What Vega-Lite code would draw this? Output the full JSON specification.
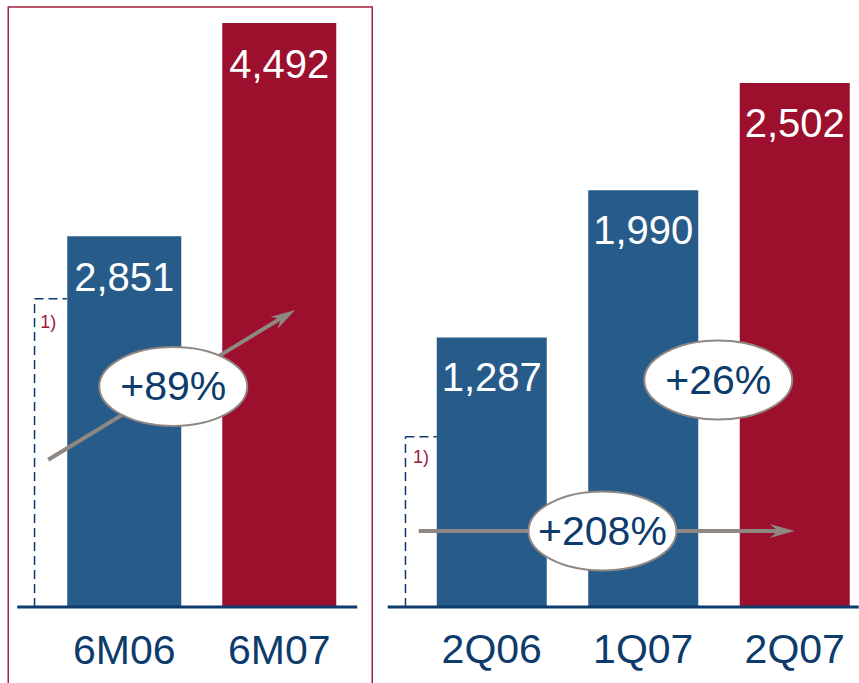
{
  "$schema": "https://vega.github.io/schema/vega-lite/v6.json",
  "padding": {"left": 7.25, "top": 6, "right": 0, "bottom": 0},
  "spacing": 6.5,
  "background": "white",
  "config": {"view": {"stroke": null}, "font": "Liberation Sans"},
  "datasets": {
    "half": [
      {"period": "6M06", "value": 2851, "series": "prior"},
      {"period": "6M07", "value": 4492, "series": "current"}
    ],
    "quarter": [
      {"period": "2Q06", "value": 1287, "series": "prior"},
      {"period": "1Q07", "value": 1990, "series": "prior"},
      {"period": "2Q07", "value": 2502, "series": "current"}
    ],
    "half_axis": [{"u": 0.3097, "u2": 2.5032, "v": 0}],
    "half_dash": [
      {"u": 0.4213, "u2": 0.4213, "v": 0, "v2": 2370},
      {"u": 0.4213, "u2": 0.63, "v": 2370, "v2": 2370}
    ],
    "half_arrow": [{"u": 0.5097, "v": 1133, "u2": 2.0368, "v2": 2239, "tipU": 2.1032, "tipV": 2284}],
    "half_change": [{"u": 1.3161, "v": 1696, "label": "+89%"}],
    "half_note": [{"u": 0.458, "v": 2146, "label": "1)"}],
    "q_axis": [{"u": 0.3135, "u2": 3.4224, "v": 0}],
    "q_dash": [
      {"u": 0.4304, "u2": 0.4304, "v": 0, "v2": 813},
      {"u": 0.4304, "u2": 0.637, "v": 813, "v2": 813}
    ],
    "q_arrow": [{"u": 0.5182, "v": 362.9, "u2": 2.9208, "v2": 362.9, "tipU": 3.0, "tipV": 362.9}],
    "q_change": [
      {"u": 1.7307, "v": 362.9, "label": "+208%"},
      {"u": 2.495, "v": 1083.9, "label": "+26%"}
    ],
    "q_note": [{"u": 0.4805, "v": 689, "label": "1)"}]
  },
  "hconcat": [
    {
      "width": 364,
      "height": 678,
      "view": {"stroke": "#A82040", "strokeWidth": 1.5},
      "resolve": {"scale": {"x": "independent"}},
      "layer": [
        {
          "data": {"name": "half"},
          "layer": [
            {
              "mark": {"type": "bar"},
              "encoding": {
                "x": {"field": "period", "type": "nominal", "sort": null, "axis": null,
                      "scale": {"type": "band", "paddingInner": 0.2645, "paddingOuter": 0.3065, "align": 0.6211}},
                "y": {"field": "value", "type": "quantitative", "axis": null,
                      "scale": {"domain": [-600, 4615], "nice": false, "zero": false}},
                "y2": {"datum": 0},
                "color": {"field": "series", "type": "nominal", "legend": null,
                          "scale": {"domain": ["prior", "current"], "range": ["#275B8A", "#9C0F2D"]}}
              }
            },
            {
              "mark": {"type": "text", "fill": "white", "fontSize": 40, "baseline": "alphabetic", "align": "center", "dy": 55},
              "encoding": {
                "x": {"field": "period", "type": "nominal", "sort": null, "axis": null},
                "y": {"field": "value", "type": "quantitative", "axis": null},
                "text": {"field": "value", "type": "quantitative", "format": ","}
              }
            },
            {
              "mark": {"type": "text", "fill": "#0C3B6C", "fontSize": 41, "baseline": "alphabetic", "align": "center", "dy": 57},
              "encoding": {
                "x": {"field": "period", "type": "nominal", "sort": null, "axis": null},
                "y": {"datum": 0, "type": "quantitative", "axis": null},
                "text": {"field": "period", "type": "nominal"}
              }
            }
          ]
        },
        {
          "layer": [
            {
              "data": {"name": "half_dash"},
              "mark": {"type": "rule", "stroke": "#0C3B6C", "strokeWidth": 1.5, "strokeDash": [9, 5]},
              "encoding": {
                "x": {"field": "u", "type": "quantitative", "axis": null, "scale": {"domain": [0.2516, 2.6], "nice": false, "zero": false}},
                "x2": {"field": "u2"},
                "y": {"field": "v", "type": "quantitative", "axis": null},
                "y2": {"field": "v2"}
              }
            },
            {
              "data": {"name": "half_arrow"},
              "mark": {"type": "rule", "stroke": "#8E8782", "strokeWidth": 4},
              "encoding": {
                "x": {"field": "u", "type": "quantitative", "axis": null},
                "x2": {"field": "u2"},
                "y": {"field": "v", "type": "quantitative", "axis": null},
                "y2": {"field": "v2"}
              }
            },
            {
              "data": {"name": "half_arrow"},
              "mark": {"type": "point", "filled": true, "fill": "#8E8782", "opacity": 1, "size": 625, "angle": 328.76,
                       "shape": "M0,0L-2,-0.56L-1.34,0L-2,0.56Z"},
              "encoding": {
                "x": {"field": "tipU", "type": "quantitative", "axis": null},
                "y": {"field": "tipV", "type": "quantitative", "axis": null}
              }
            },
            {
              "data": {"name": "half_change"},
              "mark": {"type": "point", "filled": true, "fill": "white", "stroke": "#8E8782", "strokeWidth": 2, "opacity": 1, "size": 21904,
                       "shape": "M-1,0C-1,-0.295,-0.552,-0.534,0,-0.534C0.552,-0.534,1,-0.295,1,0C1,0.295,0.552,0.534,0,0.534C-0.552,0.534,-1,0.295,-1,0Z"},
              "encoding": {
                "x": {"field": "u", "type": "quantitative", "axis": null},
                "y": {"field": "v", "type": "quantitative", "axis": null}
              }
            },
            {
              "data": {"name": "half_change"},
              "mark": {"type": "text", "fill": "#0C3B6C", "fontSize": 41, "baseline": "alphabetic", "align": "center", "dy": 14},
              "encoding": {
                "x": {"field": "u", "type": "quantitative", "axis": null},
                "y": {"field": "v", "type": "quantitative", "axis": null},
                "text": {"field": "label", "type": "nominal"}
              }
            },
            {
              "data": {"name": "half_note"},
              "mark": {"type": "text", "fill": "#A3153A", "fontSize": 18, "baseline": "alphabetic", "align": "left"},
              "encoding": {
                "x": {"field": "u", "type": "quantitative", "axis": null},
                "y": {"field": "v", "type": "quantitative", "axis": null},
                "text": {"field": "label", "type": "nominal"}
              }
            },
            {
              "data": {"name": "half_axis"},
              "mark": {"type": "rule", "stroke": "#0C3B6C", "strokeWidth": 3},
              "encoding": {
                "x": {"field": "u", "type": "quantitative", "axis": null},
                "x2": {"field": "u2"},
                "y": {"field": "v", "type": "quantitative", "axis": null}
              }
            }
          ]
        }
      ]
    },
    {
      "width": 479,
      "height": 678,
      "resolve": {"scale": {"x": "independent"}},
      "layer": [
        {
          "data": {"name": "quarter"},
          "layer": [
            {
              "mark": {"type": "bar"},
              "encoding": {
                "x": {"field": "period", "type": "nominal", "sort": null, "axis": null,
                      "scale": {"type": "band", "paddingInner": 0.2739, "paddingOuter": 0.2178, "align": 0.8636}},
                "y": {"field": "value", "type": "quantitative", "axis": null,
                      "scale": {"domain": [-372.4, 2864.9], "nice": false, "zero": false}},
                "y2": {"datum": 0},
                "color": {"field": "series", "type": "nominal", "legend": null,
                          "scale": {"domain": ["prior", "current"], "range": ["#275B8A", "#9C0F2D"]}}
              }
            },
            {
              "mark": {"type": "text", "fill": "white", "fontSize": 40, "baseline": "alphabetic", "align": "center", "dy": 54},
              "encoding": {
                "x": {"field": "period", "type": "nominal", "sort": null, "axis": null},
                "y": {"field": "value", "type": "quantitative", "axis": null},
                "text": {"field": "value", "type": "quantitative", "format": ","}
              }
            },
            {
              "mark": {"type": "text", "fill": "#0C3B6C", "fontSize": 41, "baseline": "alphabetic", "align": "center", "dy": 56},
              "encoding": {
                "x": {"field": "period", "type": "nominal", "sort": null, "axis": null},
                "y": {"datum": 0, "type": "quantitative", "axis": null},
                "text": {"field": "period", "type": "nominal"}
              }
            }
          ]
        },
        {
          "layer": [
            {
              "data": {"name": "q_dash"},
              "mark": {"type": "rule", "stroke": "#0C3B6C", "strokeWidth": 1.5, "strokeDash": [9, 5]},
              "encoding": {
                "x": {"field": "u", "type": "quantitative", "axis": null, "scale": {"domain": [0.2607, 3.4224], "nice": false, "zero": false}},
                "x2": {"field": "u2"},
                "y": {"field": "v", "type": "quantitative", "axis": null},
                "y2": {"field": "v2"}
              }
            },
            {
              "data": {"name": "q_arrow"},
              "mark": {"type": "rule", "stroke": "#8E8782", "strokeWidth": 4},
              "encoding": {
                "x": {"field": "u", "type": "quantitative", "axis": null},
                "x2": {"field": "u2"},
                "y": {"field": "v", "type": "quantitative", "axis": null},
                "y2": {"field": "v2"}
              }
            },
            {
              "data": {"name": "q_arrow"},
              "mark": {"type": "point", "filled": true, "fill": "#8E8782", "opacity": 1, "size": 625, "angle": 0,
                       "shape": "M0,0L-2,-0.56L-1.34,0L-2,0.56Z"},
              "encoding": {
                "x": {"field": "tipU", "type": "quantitative", "axis": null},
                "y": {"field": "tipV", "type": "quantitative", "axis": null}
              }
            },
            {
              "data": {"name": "q_change"},
              "mark": {"type": "point", "filled": true, "fill": "white", "stroke": "#8E8782", "strokeWidth": 2, "opacity": 1, "size": 21904,
                       "shape": "M-1,0C-1,-0.295,-0.552,-0.534,0,-0.534C0.552,-0.534,1,-0.295,1,0C1,0.295,0.552,0.534,0,0.534C-0.552,0.534,-1,0.295,-1,0Z"},
              "encoding": {
                "x": {"field": "u", "type": "quantitative", "axis": null},
                "y": {"field": "v", "type": "quantitative", "axis": null}
              }
            },
            {
              "data": {"name": "q_change"},
              "mark": {"type": "text", "fill": "#0C3B6C", "fontSize": 41, "baseline": "alphabetic", "align": "center", "dy": 14},
              "encoding": {
                "x": {"field": "u", "type": "quantitative", "axis": null},
                "y": {"field": "v", "type": "quantitative", "axis": null},
                "text": {"field": "label", "type": "nominal"}
              }
            },
            {
              "data": {"name": "q_note"},
              "mark": {"type": "text", "fill": "#A3153A", "fontSize": 18, "baseline": "alphabetic", "align": "left"},
              "encoding": {
                "x": {"field": "u", "type": "quantitative", "axis": null},
                "y": {"field": "v", "type": "quantitative", "axis": null},
                "text": {"field": "label", "type": "nominal"}
              }
            },
            {
              "data": {"name": "q_axis"},
              "mark": {"type": "rule", "stroke": "#0C3B6C", "strokeWidth": 3},
              "encoding": {
                "x": {"field": "u", "type": "quantitative", "axis": null},
                "x2": {"field": "u2"},
                "y": {"field": "v", "type": "quantitative", "axis": null}
              }
            }
          ]
        }
      ]
    }
  ]
}
